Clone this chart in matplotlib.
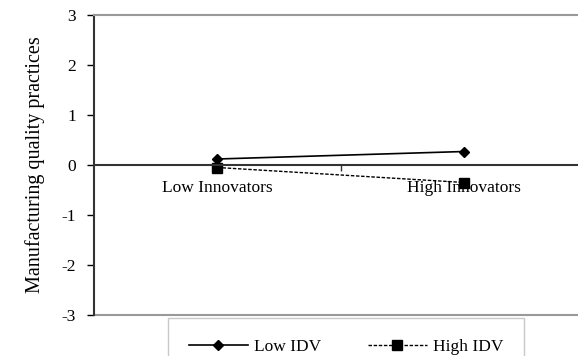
import matplotlib.pyplot as plt

plt.rcParams['font.family'] = ['Liberation Serif', 'DejaVu Serif']

categories = ['Low Innovators', 'High Innovators']
low_idv = [0.12, 0.27]
high_idv = [-0.05, -0.35]
yticks = [-3, -2, -1, 0, 1, 2, 3]

fig = plt.figure(figsize=(5.78, 3.56), dpi=100)
ax = fig.add_axes([94 / 578, 41 / 356, 484 / 578, 300 / 356])

xpos = [0.5, 1.5]
ax.plot(xpos, low_idv, color='black', lw=1.2, marker='D', markersize=5.5, label='Low IDV')
ax.plot(xpos, high_idv, color='black', lw=1.0, ls=(0, (2.5, 1.2)), marker='s', markersize=7.5, label='High IDV')

ax.set_xlim(0, 1.96)
ax.set_ylim(-3, 3)
ax.set_yticks(yticks)
ax.set_yticklabels([str(v) for v in yticks], fontsize=12.5)
ax.tick_params(axis='y', direction='out', length=5, width=1, pad=8)

# category axis sits at zero
ax.spines['bottom'].set_position(('data', 0))
ax.spines['bottom'].set_color('#333333')
ax.spines['bottom'].set_linewidth(1.5)
ax.set_xticks(xpos)
ax.set_xticklabels(categories, fontsize=12.5)
ax.set_xticks([1.0], minor=True)
ax.tick_params(axis='x', which='major', length=0, pad=11)
ax.tick_params(axis='x', which='minor', direction='out', length=4, width=1, color='#333333')

ax.spines['left'].set_color('#333333')
ax.spines['left'].set_linewidth(1.5)
ax.spines['right'].set_visible(False)
ax.spines['top'].set_color('#999999')
ax.spines['top'].set_linewidth(1.5)
ax.axhline(-3, color='#999999', lw=1.5, clip_on=False)

ax.set_ylabel('Manufacturing quality practices', fontsize=14.5, labelpad=12)

leg = fig.legend(loc='upper left', bbox_to_anchor=(168 / 578, 1 - 318 / 356 - 0.2, 356 / 578, 0.2),
                 ncol=2, fontsize=12.5, frameon=True, fancybox=False, handlelength=3.4,
                 handletextpad=0.35, columnspacing=1.3, borderaxespad=0, borderpad=1.2,
                 mode='expand')
leg.get_frame().set_edgecolor('#bbbbbb')
leg.get_frame().set_linewidth(1)

fig.savefig('out.png', dpi=100)
